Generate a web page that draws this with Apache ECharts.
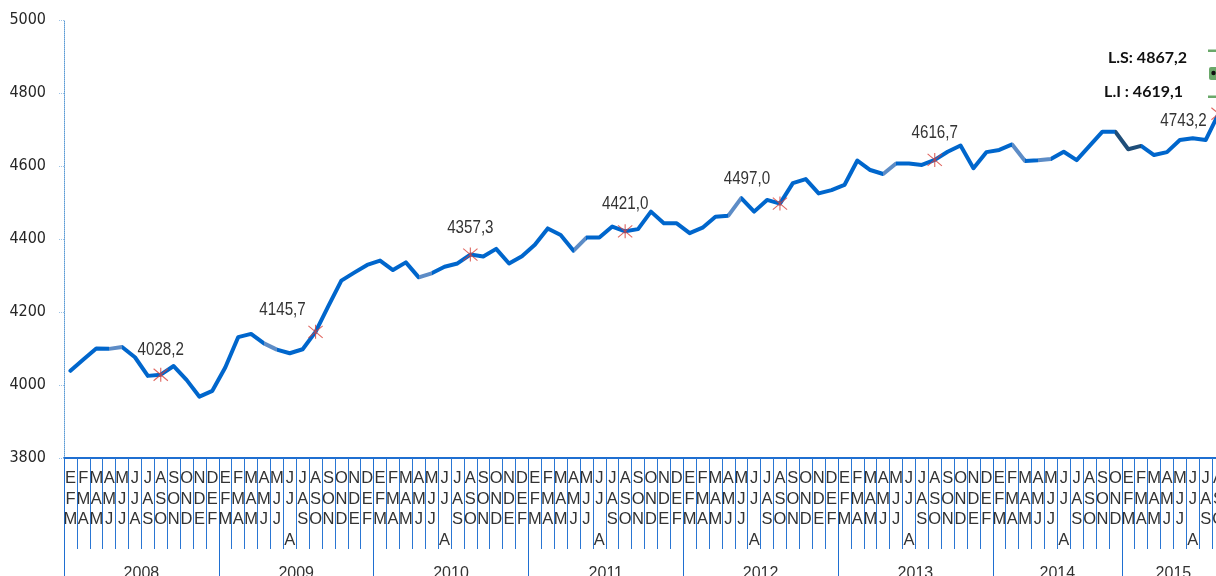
<!DOCTYPE html>
<html>
<head>
<meta charset="utf-8">
<script src="https://cdn.jsdelivr.net/npm/echarts@6/dist/echarts.min.js"></script>
<style>
html,body{margin:0;padding:0;background:#fff;}
#chart{width:1216px;height:576px;}
</style>
</head>
<body>
<div id="chart"></div>
<script>
// ---- data ----
const years = [2008, 2009, 2010, 2011, 2012, 2013, 2014, 2015];
const monthsPerYear = [12, 12, 12, 12, 12, 12, 10, 8];
const quarterCodes = ['EFM','FMA','MAM','AMJ','MJJ','JJA','JAS','ASO','SON','OND','NDE','DEF'];
const values = [
  4039, 4070, 4100, 4099, 4104, 4076, 4025, 4028.2, 4052, 4014, 3968, 3984,
  4048, 4131, 4140, 4114, 4097, 4087, 4098, 4145.7, 4217, 4286, 4308, 4329,
  4341, 4315, 4336, 4295, 4306, 4324, 4333, 4357.3, 4352, 4373, 4333, 4353,
  4384, 4429, 4411, 4368, 4404, 4404, 4434, 4421.0, 4427, 4475, 4443, 4443,
  4416, 4431, 4461, 4464, 4512, 4475, 4507, 4497.0, 4553, 4564, 4525, 4534,
  4548, 4615, 4589, 4578, 4607, 4607, 4603, 4616.7, 4639, 4656, 4594, 4638,
  4644, 4659, 4614, 4616, 4619, 4639, 4616, 4655, 4694, 4694,
  4646, 4655, 4630, 4638, 4671, 4676, 4671, 4743.2
];
const markedIdx = [7, 19, 31, 43, 55, 67, 89];
const limitUpper = 4867.2;
const limitLower = 4619.1;
const yTicks = [3800, 4000, 4200, 4400, 4600, 4800, 5000];

// ---- derived ----
const categories = [];
const monthLabels = [];
const yearStartIdx = new Set();
const yearLabelIdx = new Set();
let k = 0;
years.forEach((y, yi) => {
  yearStartIdx.add(k);
  yearLabelIdx.add(k + monthsPerYear[yi] / 2 - 1);
  for (let m = 0; m < monthsPerYear[yi]; m++) {
    const code = quarterCodes[m];
    categories.push(y + ' ' + code);
    let letters = code.split('');
    if (code === 'JJA' && y > 2008) letters = ['J', 'J', ' ', 'A'];
    monthLabels.push(letters.map(c => '{m|' + c + '}').join('\n'));
    k++;
  }
});
const fmt = v => v.toFixed(1).replace('.', ',');

// label placement (style, not data)
const labelOffsets = {7:[0,-25], 19:[-33,-22], 31:[0,-27], 43:[0,-27], 55:[-33,-25], 67:[0,-27], 89:[-35,7]};

const asterisk = 'path://M-0.55 -7 L0.55 -7 L0.55 7 L-0.55 7 Z M6.65 6.42 L-7.35 -5.58 L-6.65 -6.42 L7.35 5.58 Z M7.35 -5.58 L-6.65 6.42 L-7.35 5.58 L6.65 -6.42 Z';

const narrow = "'Liberation Sans Narrow', 'DejaVu Sans Condensed', sans-serif";
const light = '#5d8cc6';
const navy = '#1f4e79';
const blue = '#0066cc';

const chart = echarts.init(document.getElementById('chart'), null, {renderer: 'canvas'});
chart.setOption({
  animation: false,
  grid: {left: 64, top: 20, width: 1161, height: 438, containLabel: false, outerBoundsMode: 'none'},
  xAxis: [
    {
      type: 'category', data: categories, boundaryGap: true, position: 'bottom',
      axisLine: {lineStyle: {color: '#1f6fd1', width: 1.8}},
      axisTick: {show: true, interval: 0, length: 91, lineStyle: {color: '#2a76d3', width: 1}},
      axisLabel: {
        interval: 0, formatter: (v, i) => monthLabels[i],
        margin: 10.5,
        rich: {m: {fontFamily: "'Liberation Sans', Arial, sans-serif", fontSize: 16.5, lineHeight: 20.5, color: '#333', align: 'center'}}
      },
      splitLine: {show: false}
    },
    {
      type: 'category', data: categories, boundaryGap: true, position: 'bottom',
      axisLine: {show: false},
      axisTick: {show: true, interval: i => yearStartIdx.has(i), length: 120, lineStyle: {color: '#1f6fd1', width: 1}},
      axisLabel: {
        interval: i => yearLabelIdx.has(i),
        formatter: v => '{y|' + v.split(' ')[0] + '}',
        margin: 106,
        rich: {y: {padding: [0, 0, 0, 12.9], fontFamily: "'Liberation Sans', Arial, sans-serif", fontSize: 16, lineHeight: 20, color: '#333'}}
      },
      splitLine: {show: false}
    }
  ],
  yAxis: {
    type: 'value', min: yTicks[0], max: yTicks[yTicks.length - 1], interval: 200,
    axisLine: {show: true, lineStyle: {color: '#5b9bd5', type: 'dotted', width: 1}},
    axisTick: {show: true, length: 5, lineStyle: {color: '#9dc3e6', type: 'dotted'}},
    axisLabel: {fontFamily: narrow, fontSize: 16, color: '#262626', margin: 18, formatter: v => String(v)},
    splitLine: {show: false}
  },
  visualMap: {
    type: 'piecewise', show: false, dimension: 0, seriesIndex: 0,
    pieces: [
      {gte: 2.8, lte: 3.6, color: light},
      {gte: 14.9, lte: 16, color: light},
      {gte: 27, lte: 28, color: light},
      {gte: 38.9, lte: 39.8, color: light},
      {gte: 51, lte: 52, color: light},
      {gte: 63, lte: 64, color: light},
      {gte: 73, lte: 74, color: light},
      {gte: 75, lte: 76, color: light},
      {gte: 81, lte: 83, color: navy}
    ],
    outOfRange: {color: blue}
  },
  series: [
    {
      type: 'line', data: values, showSymbol: false, symbol: 'none',
      lineStyle: {width: 4, join: 'round', cap: 'round'},
      z: 2
    },
    {
      type: 'scatter',
      data: markedIdx.map(i => [i, values[i]]),
      symbol: asterisk, symbolSize: [15, 14],
      itemStyle: {color: '#d8413a'},
      z: 3
    },
    {
      type: 'custom',
      data: markedIdx.map(i => [i, values[i]]),
      encode: {x: 0, y: 1},
      renderItem: (params, api) => {
        const idx = api.value(0), v = api.value(1);
        const pt = api.coord([idx, v]);
        const off = labelOffsets[idx] || [0, -25];
        return {
          type: 'text', x: pt[0] + off[0], y: pt[1] + off[1], scaleX: 0.82,
          style: {text: fmt(v), font: "18.5px 'Liberation Sans', Arial, sans-serif", fill: '#333', align: 'center', verticalAlign: 'middle'}
        };
      },
      z: 4
    }
  ],
  graphic: [
    {type: 'text', right: 1216 - 1187, top: 50, style: {text: 'L.S: ' + fmt(limitUpper), font: "bold 16px Lato, 'Open Sans', sans-serif", fill: '#111'}},
    {type: 'text', right: 1216 - 1183, top: 84, style: {text: 'L.I : ' + fmt(limitLower), font: "bold 16px Lato, 'Open Sans', sans-serif", fill: '#111'}},
    {type: 'rect', shape: {x: 1208, y: 49.5, width: 16, height: 2.5}, style: {fill: '#6aa86a'}},
    {type: 'rect', shape: {x: 1209, y: 67, width: 16, height: 13, r: 2}, style: {fill: '#6aa86a'}},
    {type: 'circle', shape: {cx: 1213.5, cy: 73, r: 2.2}, style: {fill: '#111'}},
    {type: 'rect', shape: {x: 1208, y: 95.5, width: 16, height: 2.5}, style: {fill: '#6aa86a'}}
  ]
});
</script>
</body>
</html>
